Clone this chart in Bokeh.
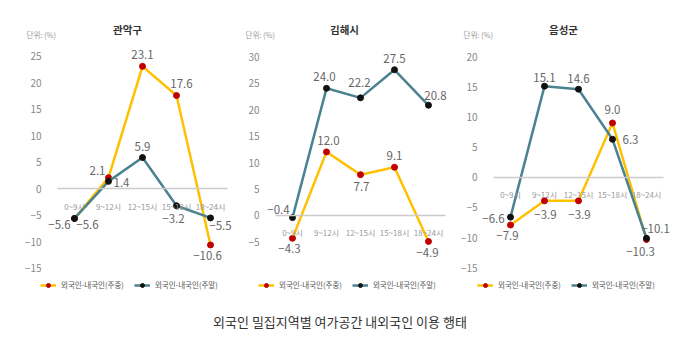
from bokeh.plotting import figure
from bokeh.models import (Range1d, FixedTicker, ColumnDataSource, LabelSet, Label,
                          Legend, LegendItem, Div)
from bokeh.layouts import row, column
from bokeh.core.properties import value
from bokeh.embed import file_html
from bokeh.resources import INLINE

FONT = "Noto Sans CJK KR"

# ---------------- data ----------------
time_slots = ["0~9시", "9~12시", "12~15시", "15~18시", "18~24시"]
regions = ["관악구", "김해시", "음성군"]
series_names = ["외국인-내국인(주중)", "외국인-내국인(주말)"]

gwanak_weekday = [-5.6, 2.1, 23.1, 17.6, -10.6]
gwanak_weekend = [-5.6, 1.4, 5.9, -3.2, -5.5]
gimhae_weekday = [-4.3, 12.0, 7.7, 9.1, -4.9]
gimhae_weekend = [-0.4, 24.0, 22.2, 27.5, 20.8]
eumseong_weekday = [-7.9, -3.9, -3.9, 9.0, -10.3]
eumseong_weekend = [-6.6, 15.1, 14.6, 6.3, -10.1]

gwanak_ticks = [-15, -10, -5, 0, 5, 10, 15, 20, 25]
gimhae_ticks = [-5, 0, 5, 10, 15, 20, 25, 30]
eumseong_ticks = [-15, -10, -5, 0, 5, 10, 15, 20]

unit_label = "단위: (%)"
chart_title = "외국인 밀집지역별 여가공간 내외국인 이용 행태"

# ---------------- styles / layout ----------------
YELLOW = "#FFC000"
RED = "#C00000"
TEAL = "#4A8291"
BLACK = "#111111"
FIG_H = 292

panels = [
    dict(title=regions[0], wd=gwanak_weekday, we=gwanak_weekend, ticks=gwanak_ticks,
         width=224, xr=(-1.941, 4.647), yr=(-21.08, 34.02),
         title_x=119, unit_x=18, legend_x=32,
         off_wd=[(-15, -6), (-11, 7), (0, 12), (5, 12), (-3, -11)],
         off_we=[(13, -6), (13, -1), (0, 11), (-3, -13), (10, -8)]),
    dict(title=regions[1], wd=gimhae_weekday, we=gimhae_weekend, ticks=gimhae_ticks,
         width=222, xr=(-1.765, 4.765), yr=(-16.04, 39.06),
         title_x=112, unit_x=13, legend_x=26,
         off_wd=[(-3, -10), (2, 11), (1, -12), (0, 12), (-1, -11)],
         off_we=[(-14, 8), (-2, 12), (-1, 15), (0, 11), (7, 10)]),
    dict(title=regions[2], wd=eumseong_weekday, we=eumseong_weekend, ticks=eumseong_ticks,
         width=218, xr=(-1.647, 4.765), yr=(-20.41, 27.97),
         title_x=109, unit_x=9, legend_x=23,
         off_wd=[(-3, -11), (1, -14), (1, -14), (0, 13), (-6, -12)],
         off_we=[(-17, -1), (0, 9), (0, 11), (18, 0), (9, 10)]),
]


def fmt(v):
    return f"{v:.1f}".replace("-", "\u2212")


slot_pos = list(range(len(time_slots)))

figs = []
for cfg in panels:
    p = figure(x_range=Range1d(*cfg["xr"]), y_range=Range1d(*cfg["yr"]),
               width=cfg["width"], height=FIG_H,
               min_border_left=0, min_border_right=0, min_border_top=0, min_border_bottom=0,
               output_backend="svg", toolbar_location=None)
    p.outline_line_color = None
    p.xgrid.visible = False
    p.ygrid.visible = False

    xa = p.xaxis[0]
    xa.fixed_location = 0
    xa.bounds = (-0.5, len(time_slots) - 0.5)
    xa.ticker = FixedTicker(ticks=slot_pos)
    xa.major_label_overrides = {i: s for i, s in zip(slot_pos, time_slots)}
    xa.axis_line_color = "#CCCCCC"
    xa.axis_line_width = 1.5
    xa.major_tick_line_color = None
    xa.minor_tick_line_color = None
    xa.major_label_text_font = FONT
    xa.major_label_text_font_size = "8px"
    xa.major_label_text_color = "#999999"
    xa.major_label_standoff = 6

    ya = p.yaxis[0]
    ya.fixed_location = -0.5
    ya.ticker = FixedTicker(ticks=cfg["ticks"])
    ya.axis_line_color = None
    ya.major_tick_line_color = None
    ya.minor_tick_line_color = None
    ya.major_label_text_font = FONT
    ya.major_label_text_font_size = "10px"
    ya.major_label_text_color = "#888888"
    ya.major_label_standoff = 10

    src_wd = ColumnDataSource(dict(x=slot_pos, v=cfg["wd"], t=[fmt(v) for v in cfg["wd"]],
                                   dx=[o[0] for o in cfg["off_wd"]], dy=[o[1] for o in cfg["off_wd"]]))
    src_we = ColumnDataSource(dict(x=slot_pos, v=cfg["we"], t=[fmt(v) for v in cfg["we"]],
                                   dx=[o[0] for o in cfg["off_we"]], dy=[o[1] for o in cfg["off_we"]]))

    l1 = p.line("x", "v", source=src_wd, line_color=YELLOW, line_width=2.5)
    s1 = p.scatter("x", "v", source=src_wd, size=6, fill_color=RED, line_color=RED)
    l2 = p.line("x", "v", source=src_we, line_color=TEAL, line_width=2.5)
    s2 = p.scatter("x", "v", source=src_we, size=6, fill_color=BLACK, line_color=BLACK)

    for src in (src_wd, src_we):
        p.add_layout(LabelSet(x="x", y="v", text="t", x_offset="dx", y_offset="dy", source=src,
                              text_align="center", text_baseline="middle",
                              text_font=value(FONT), text_font_size="11.5px", text_color="#666666"))

    p.add_layout(Label(x=cfg["title_x"], y=FIG_H - 21, x_units="screen", y_units="screen",
                       text=cfg["title"], text_font=FONT, text_font_size="10.5px",
                       text_font_style="bold", text_color="#333333",
                       text_align="center", text_baseline="middle"))
    p.add_layout(Label(x=cfg["unit_x"], y=FIG_H - 26, x_units="screen", y_units="screen",
                       text=unit_label, text_font=FONT, text_font_size="7.5px", text_color="#999999",
                       text_align="left", text_baseline="middle"))

    legend = Legend(items=[LegendItem(label=series_names[0], renderers=[l1, s1]),
                           LegendItem(label=series_names[1], renderers=[l2, s2])],
                    orientation="horizontal", location=(cfg["legend_x"], 10),
                    glyph_width=16, glyph_height=10, label_height=10, label_standoff=5,
                    spacing=10, padding=0, margin=0,
                    border_line_color=None, background_fill_alpha=0,
                    label_text_font=FONT, label_text_font_size="7.5px", label_text_color="#555555")
    p.add_layout(legend)
    figs.append(p)

title_div = Div(text=f'<div style="width:664px;text-align:center;font-family:\'{FONT}\';'
                     f'font-size:13px;color:#333333;padding-top:13px;">{chart_title}</div>',
                width=664, height=42, margin=(0, 0, 0, 0))

layout = column(row(*figs), title_div, margin=(8, 8, 8, 8))
open("out.html", "w").write(file_html(layout, INLINE))
